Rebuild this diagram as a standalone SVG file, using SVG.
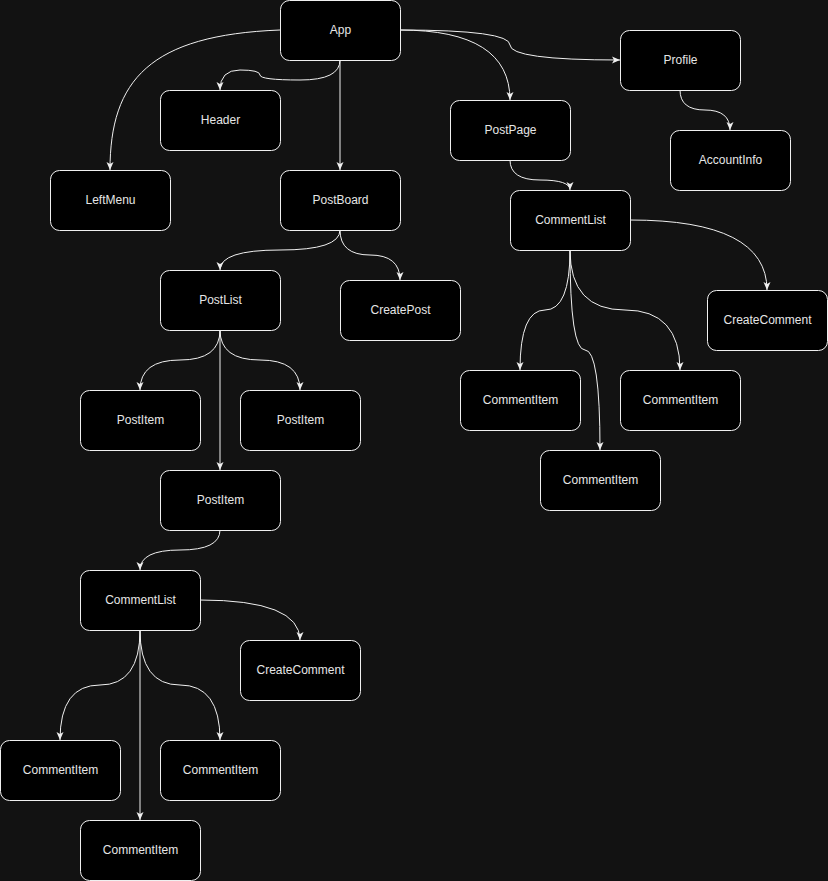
<svg xmlns="http://www.w3.org/2000/svg" width="828" height="881" viewBox="0 0 828 881">
<style>
.n rect{fill:#000;stroke:#f0f0f0;stroke-width:1}
.n text{fill:#e6e6e6;font-family:"Liberation Sans",Arial,sans-serif;font-size:12px;text-anchor:middle}
.e path{fill:none;stroke:#f0f0f0;stroke-width:1;marker-end:url(#arr)}
</style>
<defs>
<marker id="arr" viewBox="0 0 8 8" refX="8" refY="4" markerWidth="8" markerHeight="8" markerUnits="userSpaceOnUse" orient="auto">
<path d="M0,0.5 L8,4 L0,7.5 L2,4 Z" fill="#f0f0f0"/>
</marker>
</defs>
<rect x="0" y="0" width="828" height="881" fill="#121212"/>
<g class="e" id="connectors">
<path d="M340,60 Q340,80 300,80 Q260,80 260,75 Q260,70 240,70 Q220,70 220,90"/>
<path d="M280,30 C150,35 110,80 110,170"/>
<path d="M340,60 L340,170"/>
<path d="M400,30 Q510,30 510,100"/>
<path d="M400,30 Q510,30 510,45 Q510,60 620,60"/>
<path d="M340,230 Q340,250 280,250 Q220,250 220,270"/>
<path d="M340,230 Q340,255 370,255 Q400,255 400,280"/>
<path d="M220,330 Q220,360 180,360 Q140,360 140,390"/>
<path d="M220,330 Q220,360 260,360 Q300,360 300,390"/>
<path d="M220,330 L220,470"/>
<path d="M220,530 Q220,550 180,550 Q140,550 140,570"/>
<path d="M200,600 Q300,600 300,640"/>
<path d="M140,630 Q140,685 100,685 Q60,685 60,740"/>
<path d="M140,630 Q140,685 180,685 Q220,685 220,740"/>
<path d="M140,630 L140,820"/>
<path d="M510,160 Q510,180 540,180 Q570,180 570,190"/>
<path d="M680,90 Q680,110 705,110 Q730,110 730,130"/>
<path d="M630,220 Q767,220 767,290"/>
<path d="M570,250 Q570,310 545,310 Q520,310 520,370"/>
<path d="M570,250 Q570,310 625,310 Q680,310 680,370"/>
<path d="M570,250 Q570,350 585,350 Q600,350 600,450"/>
</g>
<g class="n" id="app"><rect x="280.5" y="0.5" width="120" height="60" rx="9"/><text x="340.5" y="33.5">App</text></g>
<g class="n" id="header"><rect x="160.5" y="90.5" width="120" height="60" rx="9"/><text x="220.5" y="123.5">Header</text></g>
<g class="n" id="leftmenu"><rect x="50.5" y="170.5" width="120" height="60" rx="9"/><text x="110.5" y="203.5">LeftMenu</text></g>
<g class="n" id="postboard"><rect x="280.5" y="170.5" width="120" height="60" rx="9"/><text x="340.5" y="203.5">PostBoard</text></g>
<g class="n" id="postpage"><rect x="450.5" y="100.5" width="120" height="60" rx="9"/><text x="510.5" y="133.5">PostPage</text></g>
<g class="n" id="profile"><rect x="620.5" y="30.5" width="120" height="60" rx="9"/><text x="680.5" y="63.5">Profile</text></g>
<g class="n" id="accountinfo"><rect x="670.5" y="130.5" width="120" height="60" rx="9"/><text x="730.5" y="163.5">AccountInfo</text></g>
<g class="n" id="commentlist-r"><rect x="510.5" y="190.5" width="120" height="60" rx="9"/><text x="570.5" y="223.5">CommentList</text></g>
<g class="n" id="createcomment-r"><rect x="707.5" y="290.5" width="120" height="60" rx="9"/><text x="767.5" y="323.5">CreateComment</text></g>
<g class="n" id="commentitem-r1"><rect x="460.5" y="370.5" width="120" height="60" rx="9"/><text x="520.5" y="403.5">CommentItem</text></g>
<g class="n" id="commentitem-r2"><rect x="620.5" y="370.5" width="120" height="60" rx="9"/><text x="680.5" y="403.5">CommentItem</text></g>
<g class="n" id="commentitem-r3"><rect x="540.5" y="450.5" width="120" height="60" rx="9"/><text x="600.5" y="483.5">CommentItem</text></g>
<g class="n" id="postlist"><rect x="160.5" y="270.5" width="120" height="60" rx="9"/><text x="220.5" y="303.5">PostList</text></g>
<g class="n" id="createpost"><rect x="340.5" y="280.5" width="120" height="60" rx="9"/><text x="400.5" y="313.5">CreatePost</text></g>
<g class="n" id="postitem1"><rect x="80.5" y="390.5" width="120" height="60" rx="9"/><text x="140.5" y="423.5">PostItem</text></g>
<g class="n" id="postitem2"><rect x="240.5" y="390.5" width="120" height="60" rx="9"/><text x="300.5" y="423.5">PostItem</text></g>
<g class="n" id="postitem3"><rect x="160.5" y="470.5" width="120" height="60" rx="9"/><text x="220.5" y="503.5">PostItem</text></g>
<g class="n" id="commentlist-l"><rect x="80.5" y="570.5" width="120" height="60" rx="9"/><text x="140.5" y="603.5">CommentList</text></g>
<g class="n" id="createcomment-l"><rect x="240.5" y="640.5" width="120" height="60" rx="9"/><text x="300.5" y="673.5">CreateComment</text></g>
<g class="n" id="commentitem-l1"><rect x="0.5" y="740.5" width="120" height="60" rx="9"/><text x="60.5" y="773.5">CommentItem</text></g>
<g class="n" id="commentitem-l2"><rect x="160.5" y="740.5" width="120" height="60" rx="9"/><text x="220.5" y="773.5">CommentItem</text></g>
<g class="n" id="commentitem-l3"><rect x="80.5" y="820.5" width="120" height="60" rx="9"/><text x="140.5" y="853.5">CommentItem</text></g>
</svg>
